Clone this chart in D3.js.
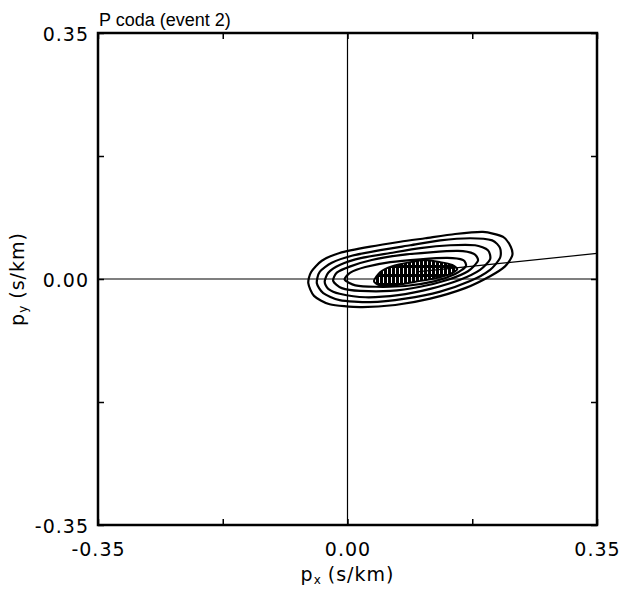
<!DOCTYPE html>
<meta charset="utf-8">
<style>
body { margin: 0; background: #fff; }
text { font-family: "Liberation Sans", Arial, sans-serif; fill: #000; }
.axis path { display: none; }
.axis line { stroke: #000; stroke-width: 1.5px; }
.axis text, .atitle { font-family: "DejaVu Sans", sans-serif; font-size: 19px; letter-spacing: 1px; }
.contour { fill: none; stroke: #000; stroke-width: 2.2px; stroke-linejoin: round; }
</style>
<body>
<svg width="620" height="593"></svg>
</body>
<script src="https://d3js.org/d3.v7.min.js"></script>
<script>

// axis range and ticks (s/km)
var domain = [-0.35, 0.35];
var tickValues = [-0.35, -0.175, 0, 0.175, 0.35];
var labelledTicks = [-0.35, 0, 0.35];

// contour outlines, outermost first, [px, py] in s/km
var contour1 = [[-0.055,-0.006],[-0.051,0.010],[-0.036,0.026],[-0.011,0.037],[0.032,0.046],[0.074,0.053],[0.109,0.058],[0.151,0.064],[0.190,0.067],[0.218,0.060],[0.229,0.046],[0.231,0.033],[0.221,0.018],[0.200,0.004],[0.165,-0.013],[0.116,-0.028],[0.067,-0.037],[0.018,-0.040],[-0.025,-0.036],[-0.047,-0.024]];
var contour2 = [[-0.043,-0.006],[-0.039,0.010],[-0.022,0.023],[0.006,0.033],[0.046,0.041],[0.088,0.048],[0.130,0.055],[0.172,0.058],[0.203,0.055],[0.214,0.044],[0.214,0.030],[0.200,0.013],[0.172,-0.003],[0.130,-0.018],[0.081,-0.028],[0.032,-0.033],[-0.011,-0.030],[-0.034,-0.020]];
var contour3 = [[-0.032,-0.004],[-0.027,0.009],[-0.011,0.020],[0.020,0.030],[0.060,0.037],[0.102,0.044],[0.144,0.048],[0.179,0.048],[0.197,0.041],[0.200,0.028],[0.186,0.013],[0.158,-0.001],[0.116,-0.014],[0.071,-0.023],[0.025,-0.026],[-0.011,-0.021],[-0.027,-0.014]];
var contour4 = [[-0.020,-0.003],[-0.015,0.009],[0.004,0.018],[0.034,0.027],[0.074,0.034],[0.116,0.038],[0.155,0.040],[0.177,0.036],[0.183,0.026],[0.169,0.011],[0.141,-0.001],[0.102,-0.011],[0.060,-0.017],[0.018,-0.017],[-0.008,-0.013]];
var contour5 = [[-0.004,-0.001],[0.004,0.009],[0.025,0.017],[0.060,0.024],[0.102,0.028],[0.140,0.030],[0.162,0.027],[0.166,0.018],[0.151,0.007],[0.123,-0.003],[0.081,-0.010],[0.039,-0.011],[0.011,-0.009]];
var core = [[0.037,-0.003],[0.046,0.010],[0.062,0.018],[0.088,0.024],[0.109,0.027],[0.130,0.024],[0.147,0.020],[0.154,0.014],[0.144,0.007],[0.123,0.001],[0.095,-0.004],[0.067,-0.009],[0.046,-0.009]];

// slowness azimuth line
var azimuthLine = [[0.10, 0.0104], [0.35, 0.0364]];

var svg = d3.select("svg");
var margin = {left: 98, right: 23, top: 33, bottom: 68};
var width = 620 - margin.left - margin.right,
    height = 593 - margin.top - margin.bottom;

var x = d3.scaleLinear().domain(domain).range([0, width]);
var y = d3.scaleLinear().domain(domain).range([height, 0]);

var defs = svg.append("defs");
var pat = defs.append("pattern")
    .attr("id", "hatch").attr("patternUnits", "userSpaceOnUse")
    .attr("width", 4).attr("height", 9);
pat.append("rect").attr("width", 4).attr("height", 9).attr("fill", "#000");
pat.append("line").attr("x1", 1.5).attr("x2", 1.5).attr("y1", 1).attr("y2", 7)
    .attr("stroke", "#fff").attr("stroke-width", 1);

var g = svg.append("g").attr("transform", "translate(" + margin.left + "," + margin.top + ")");

// zero lines
g.append("line").attr("x1", x(0)).attr("x2", x(0)).attr("y1", 0).attr("y2", height)
    .attr("stroke", "#000").attr("stroke-width", 1.2);
g.append("line").attr("x1", 0).attr("x2", width).attr("y1", y(0)).attr("y2", y(0))
    .attr("stroke", "#000").attr("stroke-width", 1.2);

var line = d3.line().x(function(d) { return x(d[0]); }).y(function(d) { return y(d[1]); })
    .curve(d3.curveCardinalClosed.tension(0.3));

g.selectAll("path.contour")
    .data([contour1, contour2, contour3, contour4, contour5])
    .enter().append("path")
    .attr("class", "contour")
    .attr("d", line);

g.append("path").attr("d", line(core))
    .attr("fill", "url(#hatch)").attr("stroke", "#000").attr("stroke-width", 2);

g.append("path")
    .attr("d", d3.line().x(function(d) { return x(d[0]); }).y(function(d) { return y(d[1]); })(azimuthLine))
    .attr("fill", "none").attr("stroke", "#000").attr("stroke-width", 1.2);

// axes: ticks point inward, plain hyphen for minus
function fmt(d) {
  return labelledTicks.indexOf(d) >= 0 ? d.toFixed(2) : "";
}
g.append("g").attr("class", "axis")
    .attr("transform", "translate(0," + height + ")")
    .call(d3.axisBottom(x).tickValues(tickValues).tickSize(-6).tickPadding(18).tickFormat(fmt));
g.append("g").attr("class", "axis")
    .call(d3.axisLeft(y).tickValues(tickValues).tickSize(-6).tickPadding(9).tickFormat(fmt))
    .selectAll("text").attr("dy", "0.4em");
g.append("g").attr("class", "axis")
    .call(d3.axisTop(x).tickValues(tickValues).tickSize(-6).tickFormat(""));
g.append("g").attr("class", "axis")
    .attr("transform", "translate(" + width + ",0)")
    .call(d3.axisRight(y).tickValues(tickValues).tickSize(-6).tickFormat(""));

// frame
g.append("rect").attr("width", width).attr("height", height)
    .attr("fill", "none").attr("stroke", "#000").attr("stroke-width", 2.5);

// title and axis titles
svg.append("text").attr("x", margin.left + 1).attr("y", 26)
    .style("font-size", "18px").text("P coda (event 2)");

var xt = svg.append("text").attr("class", "atitle")
    .attr("x", margin.left + width / 2).attr("y", 581)
    .attr("text-anchor", "middle");
xt.append("tspan").text("p");
xt.append("tspan").attr("dy", 3).style("font-size", "12px").style("letter-spacing", "0px").text("x");
xt.append("tspan").attr("dy", -3).text(" (s/km)");

var yt = svg.append("text").attr("class", "atitle")
    .attr("transform", "translate(24," + (margin.top + height / 2) + ") rotate(-90)")
    .attr("text-anchor", "middle");
yt.append("tspan").text("p");
yt.append("tspan").attr("dy", 3).style("font-size", "12px").style("letter-spacing", "0px").text("y");
yt.append("tspan").attr("dy", -3).text(" (s/km)");

</script>
